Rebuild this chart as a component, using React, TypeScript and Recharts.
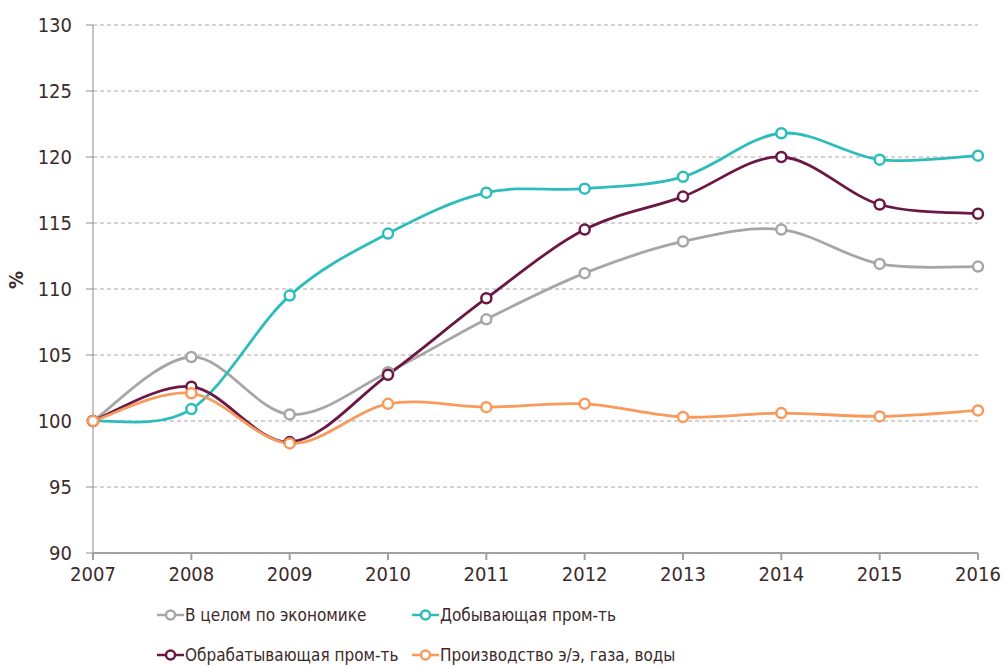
import React from "react";
import { LineChart, Line, XAxis, YAxis, CartesianGrid } from "recharts";

const years = ["2007", "2008", "2009", "2010", "2011", "2012", "2013", "2014", "2015", "2016"];
const economy = [100, 104.85, 100.5, 103.7, 107.7, 111.2, 113.6, 114.5, 111.9, 111.7];
const mining = [100, 100.9, 109.5, 114.2, 117.3, 117.6, 118.5, 121.8, 119.8, 120.1];
const manufacturing = [100, 102.6, 98.4, 103.5, 109.3, 114.5, 117.0, 120.0, 116.4, 115.7];
const utilities = [100, 102.1, 98.3, 101.3, 101.05, 101.3, 100.3, 100.6, 100.35, 100.8];
const yTicks = [90, 95, 100, 105, 110, 115, 120, 125, 130];

const SERIES = [
  { key: "economy", name: "В целом по экономике", color: "#a6a6a6" },
  { key: "mining", name: "Добывающая пром-ть", color: "#2cbcbc" },
  { key: "manufacturing", name: "Обрабатывающая пром-ть", color: "#6b1744" },
  { key: "utilities", name: "Производство э/э, газа, воды", color: "#f79a5b" },
];

const data = years.map((year, i) => ({
  year,
  economy: economy[i],
  mining: mining[i],
  manufacturing: manufacturing[i],
  utilities: utilities[i],
}));

const FONT = "'DejaVu Sans Condensed', 'Liberation Sans', sans-serif";
const TEXT = "#3b2b2b";

// excel-like smoothing (catmull-rom through the points)
const smoothCurve = (context: any) => {
  let pts: [number, number][] = [];
  return {
    areaStart() {},
    areaEnd() {},
    lineStart() {
      pts = [];
    },
    point(x: number, y: number) {
      pts.push([+x, +y]);
    },
    lineEnd() {
      if (!pts.length) return;
      context.moveTo(pts[0][0], pts[0][1]);
      for (let i = 0; i < pts.length - 1; i++) {
        const p0 = pts[i - 1] || pts[i];
        const p1 = pts[i];
        const p2 = pts[i + 1];
        const p3 = pts[i + 2] || p2;
        context.bezierCurveTo(
          p1[0] + (p2[0] - p0[0]) / 6,
          p1[1] + (p2[1] - p0[1]) / 6,
          p2[0] - (p3[0] - p1[0]) / 6,
          p2[1] - (p3[1] - p1[1]) / 6,
          p2[0],
          p2[1]
        );
      }
    },
  };
};

const LegendItem = ({ name, color }: { name: string; color: string }) => (
  <div style={{ display: "flex", alignItems: "center", height: 40, whiteSpace: "nowrap" }}>
    <svg width={27} height={14}>
      <line x1={0} y1={7} x2={27} y2={7} stroke={color} strokeWidth={2.5} />
      <circle cx={13.5} cy={7} r={4.5} fill="#fff" stroke={color} strokeWidth={2.5} />
    </svg>
    <span style={{ fontSize: 17, color: TEXT, marginLeft: 1 }}>{name}</span>
  </div>
);

export default function App() {
  return (
    <div style={{ position: "absolute", left: 0, top: 0, width: 1004, height: 666, background: "#fff", fontFamily: FONT }}>
      <LineChart width={1004} height={590} data={data} margin={{ top: 25, right: 26, bottom: 0, left: 0 }}>
        <CartesianGrid vertical={false} stroke="#a8a8a8" strokeDasharray="4 3" />
        <XAxis
          dataKey="year"
          height={37}
          stroke="#a0a0a0"
          strokeWidth={2}
          tickSize={7}
          tickMargin={7}
          tick={{ fill: TEXT, fontSize: 20, fontFamily: FONT }}
          interval={0}
        />
        <YAxis
          width={93}
          domain={[90, 130]}
          ticks={yTicks}
          stroke="#8c8c8c"
          tickSize={7}
          tickMargin={14}
          tick={{ fill: TEXT, fontSize: 20, fontFamily: FONT }}
          label={{ value: "%", angle: -90, position: "insideLeft", offset: 16, fill: TEXT, fontSize: 20, fontWeight: "bold", fontFamily: FONT }}
        />
        {SERIES.map((s) => (
          <Line
            key={s.key}
            dataKey={s.key}
            name={s.name}
            type={smoothCurve as any}
            stroke={s.color}
            strokeWidth={2.8}
            dot={{ r: 5, fill: "#fff", stroke: s.color, strokeWidth: 2.5 }}
            activeDot={false}
            isAnimationActive={false}
          />
        ))}
      </LineChart>
      <div style={{ position: "absolute", left: 157, top: 595, display: "grid", gridTemplateColumns: "255px 320px" }}>
        {SERIES.map((s) => (
          <LegendItem key={s.key} name={s.name} color={s.color} />
        ))}
      </div>
    </div>
  );
}
